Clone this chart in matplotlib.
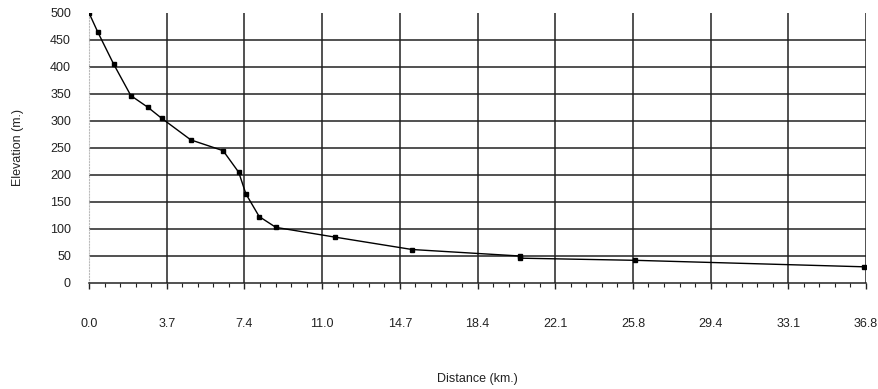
import matplotlib
matplotlib.use('Agg')

import matplotlib.pyplot as plt
import numpy as np

# longitudinal profile
distance = [0.0, 0.41, 1.17, 1.98, 2.80, 3.44, 4.82, 6.35, 7.09, 7.43, 8.06, 8.85,
            11.64, 15.30, 20.40, 20.40, 25.86, 36.70]
elevation = [500, 465, 405, 347, 325, 305, 265, 245, 205, 165, 123, 103,
             85, 62, 50, 46, 42, 30]

xticks = [0.0, 3.68, 7.36, 11.04, 14.72, 18.4, 22.08, 25.76, 29.44, 33.12, 36.8]
xtick_labels = ["0.0", "3.7", "7.4", "11.0", "14.7", "18.4", "22.1", "25.8", "29.4", "33.1", "36.8"]
yticks = [0, 50, 100, 150, 200, 250, 300, 350, 400, 450, 500]

plt.rcParams['font.family'] = ['Liberation Sans', 'DejaVu Sans']

fig = plt.figure(figsize=(8.79, 3.89), dpi=100)
ax = fig.add_axes([0.1013, 0.2725, 0.8839, 0.6941])

# grid drawn by hand so the 0 / 500 rows stay empty
for y in yticks[1:-1]:
    ax.axhline(y, color="#222222", lw=1.1, zorder=1)
for x in xticks[1:]:
    ax.axvline(x, color="#222222", lw=1.1, zorder=1)

ax.plot(distance, elevation, color="black", lw=1.0, marker="s", ms=3.2,
        mfc="black", mec="black", zorder=3)

ax.set_xlim(0, 36.8)
ax.set_ylim(0, 500)

ax.set_xticks(xticks)
ax.set_xticklabels(xtick_labels)
ax.set_xticks(np.linspace(0, 36.8, 51), minor=True)
ax.set_yticks(yticks)

ax.tick_params(axis="x", which="major", direction="out", length=4, width=1,
               pad=21, labelsize=9, colors="#222222")
ax.tick_params(axis="x", which="minor", direction="out", length=3, width=0.8,
               colors="#222222")
ax.tick_params(axis="y", length=0, pad=13, labelsize=9, colors="#222222")

for s in ["top", "right"]:
    ax.spines[s].set_visible(False)
ax.spines["bottom"].set_color("#222222")
ax.spines["bottom"].set_linewidth(1.1)
ax.spines["left"].set_color("#bbbbbb")
ax.spines["left"].set_linestyle(":")
ax.spines["left"].set_linewidth(0.8)

ax.set_ylabel("Elevation (m.)", fontsize=9, labelpad=19, color="#222222")
ax.set_xlabel("Distance (km.)", fontsize=9, labelpad=31, color="#222222")

fig.savefig("out.png", dpi=100)
